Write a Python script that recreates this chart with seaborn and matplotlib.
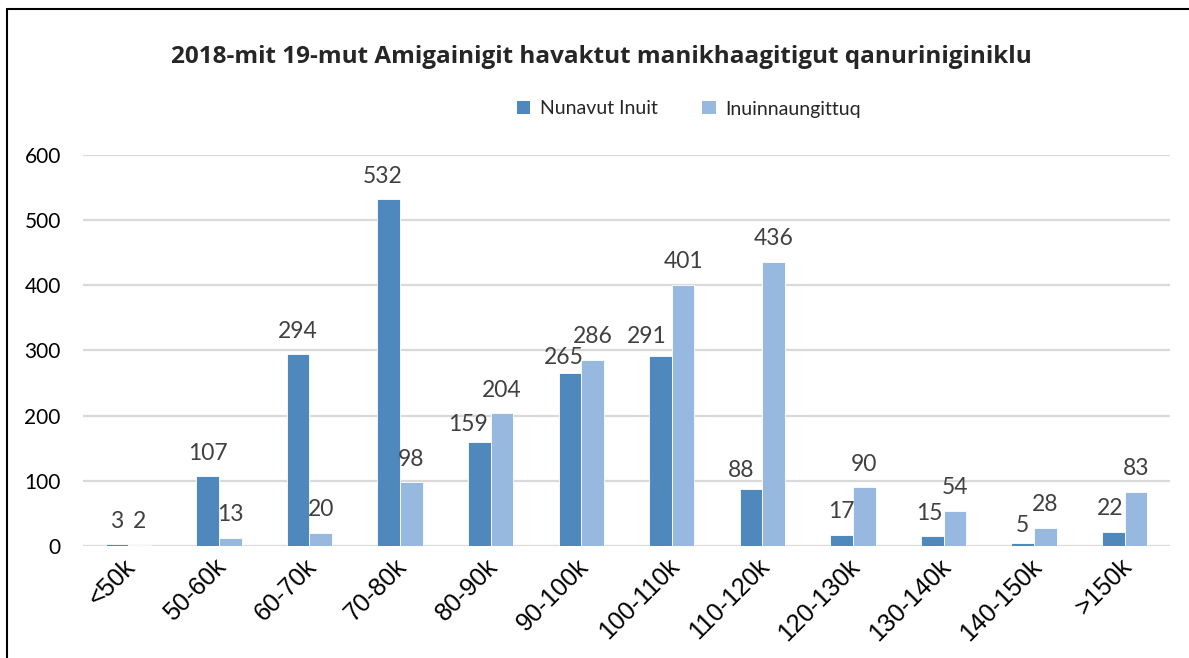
import matplotlib
matplotlib.use("Agg")
import matplotlib.pyplot as plt
import matplotlib.transforms as mtransforms
import seaborn as sns
import pandas as pd
from matplotlib.lines import Line2D
from matplotlib.patches import Patch

categories = ["<50k", "50-60k", "60-70k", "70-80k", "80-90k", "90-100k",
              "100-110k", "110-120k", "120-130k", "130-140k", "140-150k", ">150k"]
nunavut_inuit = [3, 107, 294, 532, 159, 265, 291, 88, 17, 15, 5, 22]
inuinnaungittuq = [2, 13, 20, 98, 204, 286, 401, 436, 90, 54, 28, 83]
series_names = ["Nunavut Inuit", "Inuinnaungittuq"]
colors = ["#4F88BD", "#97B9E0"]

# label nudges (pixels, dx right / dy down) mimicking the original label placement
label_nudge = {
    (0, "70-80k"): (-6, 0),
    (0, "80-90k"): (-11, 5),
    (0, "90-100k"): (-6, 7),
    (0, "100-110k"): (-14, 3),
    (0, "110-120k"): (-10, 5),
    (0, "130-140k"): (-3, 0),
    (0, "140-150k"): (0, 6),
    (0, ">150k"): (-3, 0),
}

df = pd.DataFrame({
    "cat": categories * 2,
    "value": nunavut_inuit + inuinnaungittuq,
    "series": [series_names[0]] * len(categories) + [series_names[1]] * len(categories),
})

sns.set_theme(style="white")
plt.rcParams["font.family"] = ["Liberation Sans", "DejaVu Sans"]
label_font = ["Lato", "DejaVu Sans"]
tick_font = ["Liberation Sans", "DejaVu Sans"]

fig = plt.figure(figsize=(11.89, 6.58), dpi=100)
ax = fig.add_axes([83 / 1189, 1 - 546 / 658, (1170 - 83) / 1189, (546 - 155) / 658])

sns.barplot(data=df, x="cat", y="value", hue="series", order=categories,
            hue_order=series_names, palette=colors, width=0.5, ax=ax,
            edgecolor="white", linewidth=0.6, legend=False, saturation=1)

ax.set_ylim(0, 600)
ax.set_xlim(-0.5, len(categories) - 0.5)
ax.set_yticks([0, 100, 200, 300, 400, 500, 600])
ax.set_yticklabels(["0", "100", "200", "300", "400", "500", "600"],
                   fontdict={"family": label_font, "size": 15})
ax.yaxis.grid(True, color="#D9D9D9", linewidth=1.6)
ax.set_axisbelow(True)
for s in ax.spines.values():
    s.set_visible(False)
ax.set_xlabel("")
ax.set_ylabel("")
ax.tick_params(axis="y", length=0, pad=16, labelcolor="#000000")
ax.tick_params(axis="x", length=0, pad=6, labelcolor="#000000")
ax.set_xticks(range(len(categories)))
ax.set_xticklabels(categories, fontdict={"family": tick_font, "size": 18},
                   rotation=45, ha="right", rotation_mode="anchor")
shift = mtransforms.ScaledTranslation(-5 / 100, 0, fig.dpi_scale_trans)
for lbl in ax.get_xticklabels():
    lbl.set_transform(lbl.get_transform() + shift)

pad_pt = 9
for si, cont in enumerate(ax.containers):
    anns = ax.bar_label(cont, padding=pad_pt, fontsize=16.5, color="#404040",
                        family=label_font)
    for cat, ann in zip(categories, anns):
        dx, dy = label_nudge.get((si, cat), (0, 0))
        ann.xyann = (dx * 0.72, pad_pt - dy * 0.72)

fig.text(601 / 1189, 1 - 57 / 658,
         "2018-mit 19-mut Amigainigit havaktut manikhaagitigut qanuriniginiklu",
         ha="center", va="center", fontsize=17.5, fontweight="bold",
         family=["Open Sans", "DejaVu Sans"])

handles = [Patch(facecolor=c, edgecolor="none") for c in colors]
fig.legend(handles, series_names, loc="center", bbox_to_anchor=(689 / 1189, 1 - 109 / 658),
           ncol=2, frameon=False, handlelength=0.68, handleheight=0.68,
           handletextpad=0.5, columnspacing=2.3,
           prop={"family": label_font, "size": 14})

fig.add_artist(Line2D([7 / 1189, 7 / 1189], [0, 1 - 9 / 658], transform=fig.transFigure,
                      color="black", linewidth=1.5))
fig.add_artist(Line2D([7 / 1189, 1], [1 - 9 / 658, 1 - 9 / 658], transform=fig.transFigure,
                      color="black", linewidth=1.5))

fig.savefig("out.png", dpi=100, facecolor="white")
